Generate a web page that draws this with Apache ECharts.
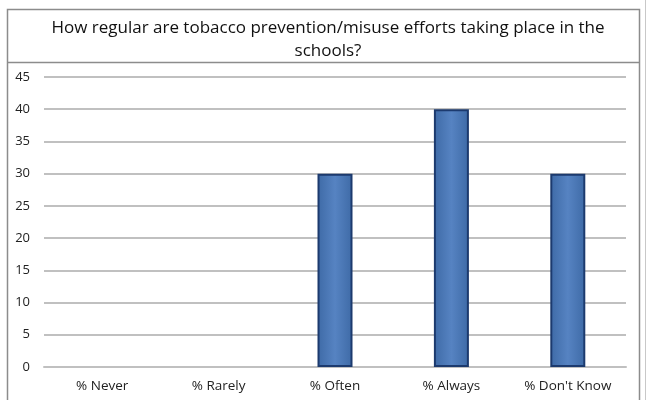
<!DOCTYPE html>
<html>
<head>
<meta charset="utf-8">
<script src="https://cdn.jsdelivr.net/npm/echarts@6/dist/echarts.min.js"></script>
<style>
  html, body { margin: 0; padding: 0; background: #fff; }
  #chart { width: 649px; height: 400px; }
</style>
</head>
<body>
<div id="chart"></div>
<script>
// Survey responses (percent of schools)
const categories = ['% Never', '% Rarely', '% Often', '% Always', "% Don't Know"];
const percentValues = [0, 0, 30, 40, 30];
const yTicks = { min: 0, max: 45, step: 5 };
const chartTitle = 'How regular are tobacco prevention/misuse efforts taking place in the\nschools?';

const chart = echarts.init(document.getElementById('chart'), null, { renderer: 'canvas' });

const frameColor = '#8c8c8c';

// zero-height bars get no outline
const barData = percentValues.map(v => ({
  value: v,
  itemStyle: v === 0 ? { borderWidth: 0 } : {}
}));

chart.setOption({
  animation: false,
  backgroundColor: '#ffffff',
  title: {
    text: chartTitle,
    left: 323,
    top: 12,
    textAlign: 'center',
    textStyle: {
      fontFamily: 'Open Sans',
      fontSize: 17,
      fontWeight: 'normal',
      color: '#111111',
      lineHeight: 23,
      align: 'center'
    }
  },
  graphic: [
    // outer frame
    { type: 'rect', shape: { x: 7.5, y: 9.5, width: 632, height: 395 }, style: { fill: 'none', stroke: frameColor, lineWidth: 1.5 } },
    // title box bottom edge
    { type: 'line', shape: { x1: 7.5, y1: 62.5, x2: 639.5, y2: 62.5 }, style: { stroke: frameColor, lineWidth: 1.5 } },
    // double line on the right
    { type: 'line', shape: { x1: 645.5, y1: 0, x2: 645.5, y2: 400 }, style: { stroke: '#c8c8c8', lineWidth: 1 } }
  ],
  grid: { left: 44, right: 23, top: 77, bottom: 33, containLabel: false },
  xAxis: {
    type: 'category',
    data: categories,
    axisLine: { show: true, lineStyle: { color: '#c0c0c0', width: 2 } },
    axisTick: { show: false },
    axisLabel: {
      color: '#222222',
      fontFamily: 'Open Sans',
      fontSize: 13.5,
      margin: 12,
      interval: 0
    }
  },
  yAxis: {
    type: 'value',
    min: yTicks.min,
    max: yTicks.max,
    interval: yTicks.step,
    axisLine: { show: false },
    axisTick: { show: false },
    axisLabel: {
      color: '#222222',
      fontFamily: 'Open Sans',
      fontSize: 13,
      margin: 14
    },
    splitLine: { lineStyle: { color: '#c0c0c0', width: 2 } }
  },
  series: [{
    type: 'bar',
    data: barData,
    barWidth: 35,
    itemStyle: {
      color: new echarts.graphic.LinearGradient(0, 0, 1, 0, [
        { offset: 0, color: '#3e6aa6' },
        { offset: 0.5, color: '#5683c2' },
        { offset: 1, color: '#3e6aa6' }
      ]),
      borderColor: '#1c3a6e',
      borderWidth: 2
    }
  }]
});
</script>
</body>
</html>
